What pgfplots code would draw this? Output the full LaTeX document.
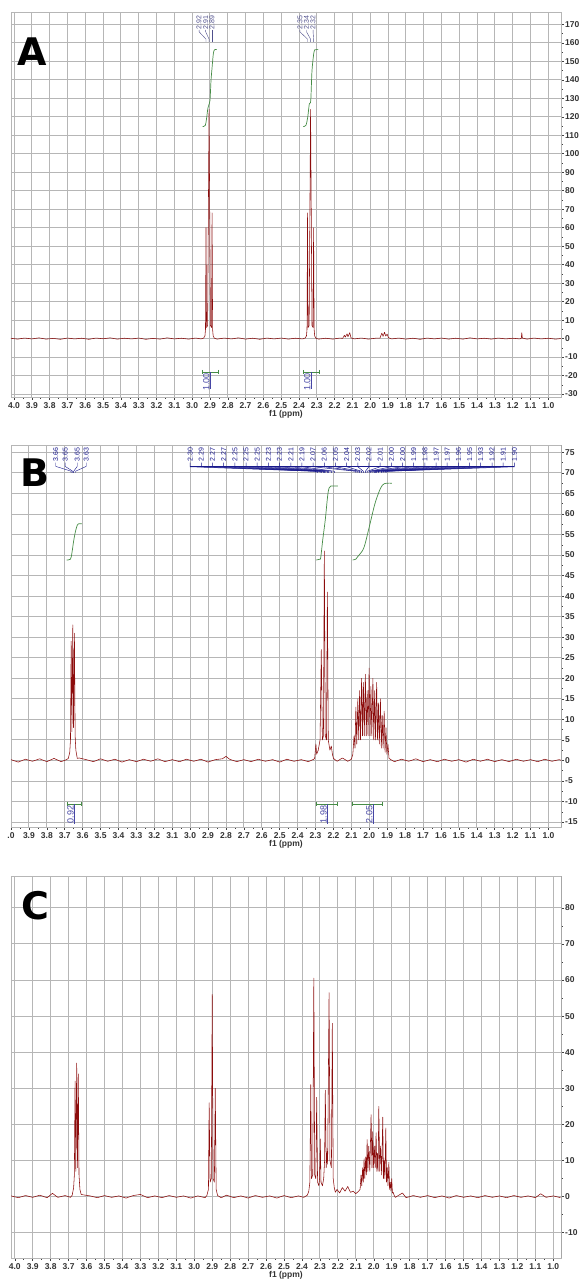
\documentclass[border=0pt]{standalone}
\usepackage{fontspec}
\setmainfont{Liberation Sans}
\newfontfamily\letterfont{DejaVu Sans}
\usepackage{pgfplots}
\pgfplotsset{compat=1.18}

\definecolor{spec}{RGB}{140,12,12}
\definecolor{gridc}{RGB}{182,182,182}
\definecolor{integ}{RGB}{70,140,70}
\definecolor{plab}{RGB}{80,80,140}
\definecolor{plabd}{RGB}{25,25,140}
\definecolor{ilab}{RGB}{70,70,165}

\pgfplotsset{
  nmr/.style={
    scale only axis, anchor=south west, width=550pt,
    x dir=reverse,
    xtick={1.0,1.1,1.2,1.3,1.4,1.5,1.6,1.7,1.8,1.9,2.0,2.1,2.2,2.3,2.4,2.5,2.6,2.7,2.8,2.9,3.0,3.1,3.2,3.3,3.4,3.5,3.6,3.7,3.8,3.9,4.0},
    xticklabel style={/pgf/number format/fixed, /pgf/number format/fixed zerofill, /pgf/number format/precision=1},
    minor x tick num=1, minor y tick num=1,
    grid=major, major grid style={gridc, line width=0.9pt},
    axis line style={gridc, line width=0.9pt},
    tick style={black!75, line width=0.5pt},
    major tick length=3pt, minor tick length=1.8pt,
    tick align=outside, xtick pos=bottom, ytick pos=right, yticklabel pos=right,
    /pgf/number format/assume math mode=true,
    x tick label style={font=\bfseries\fontsize{8.5}{9}\selectfont, text=black!80, inner sep=1pt, yshift=-1pt},
    y tick label style={font=\bfseries\fontsize{8.5}{9}\selectfont, text=black!80, inner sep=1pt},
    xlabel={f1 (ppm)},
    xlabel style={font=\bfseries\fontsize{8.5}{9}\selectfont, text=black!80, inner sep=0pt, yshift=-1pt},
    every axis plot/.append style={line join=round},
  },
  spectrum/.style={spec, line width=0.55pt},
  integral/.style={integ, line width=0.7pt, smooth},
}
\tikzset{
  plA/.style={rotate=90, anchor=west, font=\fontsize{7}{7}\selectfont, text=plab, inner sep=0pt},
  plB/.style={rotate=90, anchor=west, font=\fontsize{7}{7}\selectfont, text=plabd, inner sep=0pt},
  ilb/.style={rotate=90, font=\fontsize{9}{9}\selectfont, text=ilab, inner sep=0pt},
}

\begin{document}
\begin{tikzpicture}
\useasboundingbox (0,0) rectangle (585pt,1287pt);

% ---------------- A ----------------
\begin{axis}[nmr, at={(11pt,890pt)}, height=385pt,
  xmin=0.929, xmax=4.017, ymin=-31.6, ymax=176.7,
  ytick={-30,-20,...,170}]
\addplot[spectrum] coordinates {
(4.02,0.2)(3.98,-0.3)(3.94,0.3)(3.90,-0.2)(3.86,0.4)(3.82,-0.3)(3.78,0.1)(3.74,-0.4)(3.70,0.3)(3.66,-0.2)
(3.62,0.2)(3.58,-0.4)(3.54,0.3)(3.50,-0.1)(3.46,0.4)(3.42,-0.3)(3.38,0.2)(3.34,-0.2)(3.30,0.3)(3.26,-0.4)
(3.22,0.1)(3.18,-0.3)(3.14,0.4)(3.10,-0.2)(3.06,0.2)(3.02,-0.3)(2.98,0.3)(2.95,-0.2)
(2.935,0.3)(2.928,1.5)(2.925,5)(2.922,60)(2.919,6)(2.913,7)(2.905,124)(2.897,7)(2.891,6)(2.888,68)(2.885,5)(2.882,1.5)(2.875,0.2)
(2.86,-0.3)(2.82,0.3)(2.78,-0.2)(2.74,0.4)(2.70,-0.3)(2.66,0.2)(2.62,-0.4)(2.58,0.3)(2.54,-0.2)(2.50,0.3)
(2.46,-0.3)(2.42,0.2)(2.38,-0.2)
(2.365,0.3)(2.358,1.5)(2.355,5)(2.352,68)(2.349,6)(2.343,7)(2.335,124)(2.327,7)(2.321,6)(2.318,60)(2.315,5)(2.312,1.5)(2.305,0.2)
(2.29,-0.3)(2.25,0.2)(2.21,-0.3)(2.17,0.3)(2.155,0.1)(2.145,1.8)(2.14,0.8)(2.13,2.6)(2.125,1.0)(2.115,3.2)(2.108,0.4)
(2.09,-0.2)(2.05,0.3)(2.01,-0.3)(1.97,0.2)(1.945,0.3)(1.935,3.0)(1.928,1.2)(1.92,3.4)(1.913,1.4)(1.905,2.4)(1.898,0.5)
(1.88,-0.2)(1.84,0.3)(1.80,-0.3)(1.76,0.2)(1.72,-0.4)(1.68,0.3)(1.64,-0.2)(1.60,0.3)(1.56,-0.3)(1.52,0.2)
(1.48,-0.3)(1.44,0.4)(1.40,-0.2)(1.36,0.2)(1.32,-0.3)(1.28,0.3)(1.24,-0.2)(1.20,0.2)(1.16,-0.2)
(1.152,0.2)(1.149,3.2)(1.146,0.3)(1.12,-0.3)(1.08,0.3)(1.04,-0.2)(1.00,0.2)(0.96,-0.3)(0.92,0.1)};
\addplot[integral] coordinates {(2.941,114.7)(2.926,115.4)(2.918,119.8)(2.911,124.9)(2.900,128.8)(2.894,139.7)(2.889,145.5)(2.881,154.1)(2.874,156.3)(2.862,156.3)};
\addplot[integral] coordinates {(2.376,114.7)(2.361,115.4)(2.351,119.8)(2.342,127.0)(2.334,128.8)(2.327,145)(2.316,155)(2.308,156.3)(2.292,156.3)};
% peak labels
\foreach \lx/\p/\t in {2.961/2.922/2.92, 2.924/2.905/2.91, 2.888/2.888/2.89, 2.395/2.352/2.35, 2.358/2.335/2.34, 2.321/2.318/2.32}{
  \edef\tmp{\noexpand\draw[plab, line width=0.4pt] (axis cs:\lx,167) -- (axis cs:\lx,166) -- (axis cs:\p,162) -- (axis cs:\p,160.5);
  \noexpand\node[plA] at (axis cs:\lx,167.3) {\t};}\tmp}
% integral labels
\draw[integ, line width=0.7pt] (axis cs:2.94,-16.9) -- (axis cs:2.94,-19.1) (axis cs:2.94,-18) -- (axis cs:2.855,-18) (axis cs:2.855,-16.9) -- (axis cs:2.855,-19.1);
\draw[ilab, line width=0.5pt] (axis cs:2.898,-18) -- (axis cs:2.898,-27.5);
\node[ilb] at (axis cs:2.921,-23.5) {1.00};
\draw[integ, line width=0.7pt] (axis cs:2.376,-16.9) -- (axis cs:2.376,-19.1) (axis cs:2.376,-18) -- (axis cs:2.287,-18) (axis cs:2.287,-16.9) -- (axis cs:2.287,-19.1);
\draw[ilab, line width=0.5pt] (axis cs:2.331,-18) -- (axis cs:2.331,-27.5);
\node[ilb] at (axis cs:2.354,-23.5) {1.00};
\draw[black!75, line width=0.6pt] (rel axis cs:0,0) -- (rel axis cs:1,0) -- (rel axis cs:1,1);
\end{axis}

% ---------------- B ----------------
\begin{axis}[nmr, at={(11pt,460pt)}, height=382pt,
  xmin=0.93, xmax=4.0, ymin=-16.2, ymax=76.8,
  ytick={-15,-10,...,75},
  xticklabels={1.0,1.1,1.2,1.3,1.4,1.5,1.6,1.7,1.8,1.9,2.0,2.1,2.2,2.3,2.4,2.5,2.6,2.7,2.8,2.9,3.0,3.1,3.2,3.3,3.4,3.5,3.6,3.7,3.8,3.9,.0}]
\addplot[spectrum] coordinates {
(4.00,0.2)(3.96,-0.4)(3.92,0.3)(3.88,-0.2)(3.84,0.4)(3.80,-0.3)(3.76,0.5)(3.72,-0.3)(3.69,0.2)
(3.68,0.5)(3.672,2)(3.668,5)(3.664,29)(3.66,7)(3.655,33)(3.651,8)(3.646,31)(3.642,6)(3.638,2.5)(3.63,0.5)
(3.62,0.6)(3.58,0.2)(3.54,-0.3)(3.50,0.4)(3.46,-0.2)(3.42,0.3)(3.38,-0.4)(3.34,0.2)(3.30,-0.3)(3.26,0.3)
(3.22,-0.2)(3.18,0.4)(3.14,-0.3)(3.10,0.2)(3.06,-0.3)(3.02,0.3)(2.98,-0.2)(2.94,0.3)(2.90,-0.4)(2.86,0.2)
(2.82,0.4)(2.80,1.0)(2.78,0.3)(2.74,-0.3)(2.70,0.2)(2.66,-0.3)(2.62,0.3)(2.58,-0.2)(2.54,0.2)(2.50,-0.4)
(2.46,0.3)(2.42,-0.2)(2.38,0.2)(2.34,-0.3)(2.31,0.3)
(2.305,0.5)(2.298,4)(2.294,1.5)(2.285,2.5)(2.275,5)(2.268,27)(2.262,5)(2.256,6)(2.251,51)(2.246,6)(2.239,5)(2.234,41)(2.229,5)(2.22,2.5)(2.212,3.5)(2.206,1.5)(2.2,0.5)
(2.18,-0.2)(2.15,0.6)(2.12,-0.2)(2.10,0.3)
(2.092,1.5)(2.085,6)(2.080,3)(2.075,13)(2.070,4)(2.064,15)(2.059,5)(2.054,17)(2.049,5)(2.043,20)(2.038,6)(2.033,19)(2.028,6)
(2.022,21)(2.017,6)(2.012,17)(2.007,6)(2.001,22.5)(1.996,6)(1.991,18)(1.986,6)(1.980,20)(1.975,5)(1.970,17)(1.965,5)
(1.959,19)(1.954,5)(1.949,14)(1.944,4)(1.938,15)(1.933,3)(1.928,11)(1.923,3)(1.917,12)(1.912,2)(1.907,8)(1.902,1.5)(1.896,4)(1.890,0.5)
(1.88,0.2)(1.86,-0.3)(1.82,0.3)(1.78,-0.2)(1.74,0.4)(1.70,-0.3)(1.66,0.2)(1.62,-0.3)(1.58,0.3)(1.54,-0.2)
(1.50,0.2)(1.46,-0.4)(1.42,0.3)(1.38,-0.2)(1.34,0.3)(1.30,-0.3)(1.26,0.2)(1.22,-0.3)(1.18,0.3)(1.14,-0.2)
(1.10,0.2)(1.06,-0.3)(1.02,0.3)(0.98,-0.2)(0.94,0.2)(0.92,-0.1)};
\addplot[integral] coordinates {(3.690,48.8)(3.668,49.0)(3.660,50.5)(3.650,53.5)(3.640,55.8)(3.630,57.3)(3.624,57.6)(3.605,57.6)};
\addplot[integral] coordinates {(2.296,48.8)(2.276,49.0)(2.271,49.4)(2.260,53.7)(2.246,58.5)(2.233,64.2)(2.225,66.3)(2.215,66.8)(2.176,66.8)};
\addplot[integral] coordinates {(2.093,48.8)(2.075,49.0)(2.065,49.6)(2.031,51.7)(2.0,56.9)(1.968,62.6)(1.937,66.3)(1.915,67.4)(1.874,67.5)};
% peak labels
\foreach \lx/\p/\t in {3.750/3.664/3.66, 3.698/3.655/3.65, 3.630/3.650/3.65, 3.580/3.640/3.63}{
  \edef\tmp{\noexpand\draw[plabd, line width=0.4pt] (axis cs:\lx,72.5) -- (axis cs:\lx,71.6) -- (axis cs:\p,70.4) -- (axis cs:\p,70.0);
  \noexpand\node[plB] at (axis cs:\lx,72.7) {\t};}\tmp}
\draw[plabd, line width=0.6pt] (axis cs:3.0,71.5) -- (axis cs:1.19,71.5);
\foreach \lx/\p/\t in {3.000/2.298/2.30, 2.938/2.290/2.29, 2.875/2.275/2.27, 2.813/2.268/2.27, 2.750/2.256/2.25, 2.688/2.251/2.25,
  2.626/2.246/2.25, 2.563/2.234/2.23, 2.501/2.229/2.23, 2.438/2.212/2.21, 2.376/2.195/2.19, 2.314/2.075/2.07, 2.251/2.064/2.06,
  2.189/2.054/2.05, 2.126/2.043/2.04, 2.064/2.033/2.03, 2.002/2.022/2.02, 1.939/2.012/2.01, 1.877/2.001/2.00, 1.814/1.996/2.00,
  1.752/1.991/1.99, 1.690/1.980/1.98, 1.627/1.970/1.97, 1.565/1.965/1.97, 1.502/1.959/1.96, 1.440/1.949/1.95, 1.378/1.933/1.93,
  1.315/1.923/1.92, 1.253/1.912/1.91, 1.190/1.902/1.90}{
  \edef\tmp{\noexpand\draw[plabd, line width=0.5pt] (axis cs:\lx,72.5) -- (axis cs:\lx,71.5) -- (axis cs:\p,70.4) -- (axis cs:\p,70.0);
  \noexpand\node[plB] at (axis cs:\lx,72.7) {\t};}\tmp}
% integral labels
\draw[integ, line width=0.7pt] (axis cs:3.688,-10.0) -- (axis cs:3.688,-11.2) (axis cs:3.688,-10.6) -- (axis cs:3.609,-10.6) (axis cs:3.609,-10.0) -- (axis cs:3.609,-11.2);
\draw[ilab, line width=0.5pt] (axis cs:3.646,-10.6) -- (axis cs:3.646,-15.5);
\node[ilb] at (axis cs:3.668,-13.2) {0.92};
\draw[integ, line width=0.7pt] (axis cs:2.296,-10.0) -- (axis cs:2.296,-11.2) (axis cs:2.296,-10.6) -- (axis cs:2.176,-10.6) (axis cs:2.176,-10.0) -- (axis cs:2.176,-11.2);
\draw[ilab, line width=0.5pt] (axis cs:2.234,-10.6) -- (axis cs:2.234,-15.5);
\node[ilb] at (axis cs:2.256,-13.2) {1.98};
\draw[integ, line width=0.7pt] (axis cs:2.093,-10.0) -- (axis cs:2.093,-11.2) (axis cs:2.093,-10.6) -- (axis cs:1.926,-10.6) (axis cs:1.926,-10.0) -- (axis cs:1.926,-11.2);
\draw[ilab, line width=0.5pt] (axis cs:1.978,-10.6) -- (axis cs:1.978,-15.5);
\node[ilb] at (axis cs:2.000,-13.2) {2.05};
\draw[black!75, line width=0.6pt] (rel axis cs:0,0) -- (rel axis cs:1,0) -- (rel axis cs:1,1);
\end{axis}

% ---------------- C ----------------
\begin{axis}[nmr, at={(11pt,29pt)}, height=382pt,
  xmin=0.957, xmax=4.021, ymin=-17, ymax=88.8,
  ytick={-10,0,...,80}]
\addplot[spectrum] coordinates {
(4.02,0.2)(3.98,-0.3)(3.94,0.3)(3.90,-0.2)(3.86,0.4)(3.82,-0.3)(3.79,0.9)(3.76,-0.2)(3.72,0.3)(3.69,-0.2)
(3.68,0.4)(3.672,2.5)(3.668,6)(3.664,32)(3.66,7)(3.655,37)(3.651,8)(3.646,34)(3.642,6)(3.637,2)(3.63,0.6)
(3.62,0.5)(3.58,0.2)(3.54,-0.3)(3.50,0.3)(3.46,-0.2)(3.42,0.2)(3.38,-0.4)(3.34,0.3)(3.30,0.6)(3.26,-0.3)
(3.22,0.2)(3.18,-0.3)(3.14,0.3)(3.10,-0.2)(3.06,0.2)(3.02,-0.4)(2.98,0.2)(2.94,-0.3)
(2.93,0.3)(2.921,2)(2.917,26)(2.912,4)(2.905,5)(2.900,56)(2.895,5)(2.888,4)(2.883,30)(2.878,2)(2.87,0.3)
(2.85,-0.3)(2.82,0.4)(2.78,-0.3)(2.74,0.2)(2.70,-0.4)(2.66,0.3)(2.62,-0.2)(2.58,0.2)(2.54,-0.4)(2.50,0.3)
(2.46,-0.3)(2.42,0.2)(2.39,-0.2)(2.37,0.4)
(2.362,1.5)(2.356,4)(2.351,31)(2.347,5)(2.34,6)(2.334,60.5)(2.329,6)(2.323,5)(2.318,27.5)(2.313,4)(2.306,3)
(2.302,5)(2.298,16)(2.294,4)(2.286,3)(2.279,5)(2.274,10)(2.270,29.5)(2.265,8)(2.26,12.5)(2.257,9)(2.249,56.5)(2.244,10)
(2.236,8)(2.231,48)(2.226,5)(2.22,2.5)(2.214,1.2)
(2.205,2)(2.19,1)(2.175,2.5)(2.16,1.5)(2.145,2.8)(2.13,1.2)(2.115,1.5)(2.10,0.8)(2.085,1.5)
(2.076,2)(2.071,6)(2.067,3)(2.062,8)(2.058,4)(2.054,10.5)(2.050,5)(2.045,11)(2.041,6)(2.037,15.8)(2.033,7)(2.028,14)(2.022,7)
(2.015,22.7)(2.010,8)(2.006,18)(2.001,8)(1.997,14)(1.992,8)(1.987,17.7)(1.983,7)(1.979,12)(1.976,7)(1.972,25)(1.967,7)
(1.962,14)(1.956,6)(1.950,22)(1.946,5)(1.942,10)(1.938,5)(1.933,19)(1.929,4)(1.925,8)(1.921,3)(1.916,9.5)(1.912,2)
(1.908,4)(1.904,1.5)(1.900,5)(1.896,1)(1.892,1.2)(1.886,0.3)
(1.88,-0.2)(1.84,1.0)(1.82,-0.3)(1.78,0.3)(1.74,-0.2)(1.70,0.3)(1.66,-0.3)(1.62,0.2)(1.58,-0.4)(1.54,0.3)
(1.50,-0.2)(1.46,0.2)(1.42,-0.3)(1.38,0.3)(1.34,-0.2)(1.30,0.2)(1.26,-0.3)(1.22,0.3)(1.18,-0.2)(1.14,0.2)
(1.10,-0.3)(1.07,0.8)(1.04,-0.2)(1.00,0.2)(0.96,-0.3)};
\draw[black!75, line width=0.6pt] (rel axis cs:0,0) -- (rel axis cs:1,0) -- (rel axis cs:1,1);
\end{axis}

\node[font=\letterfont\bfseries\fontsize{38}{38}\selectfont] at (32pt,1235pt) {A};
\node[font=\letterfont\bfseries\fontsize{38}{38}\selectfont] at (35pt,814pt) {B};
\node[font=\letterfont\bfseries\fontsize{38}{38}\selectfont] at (35pt,381pt) {C};
\end{tikzpicture}
\end{document}
